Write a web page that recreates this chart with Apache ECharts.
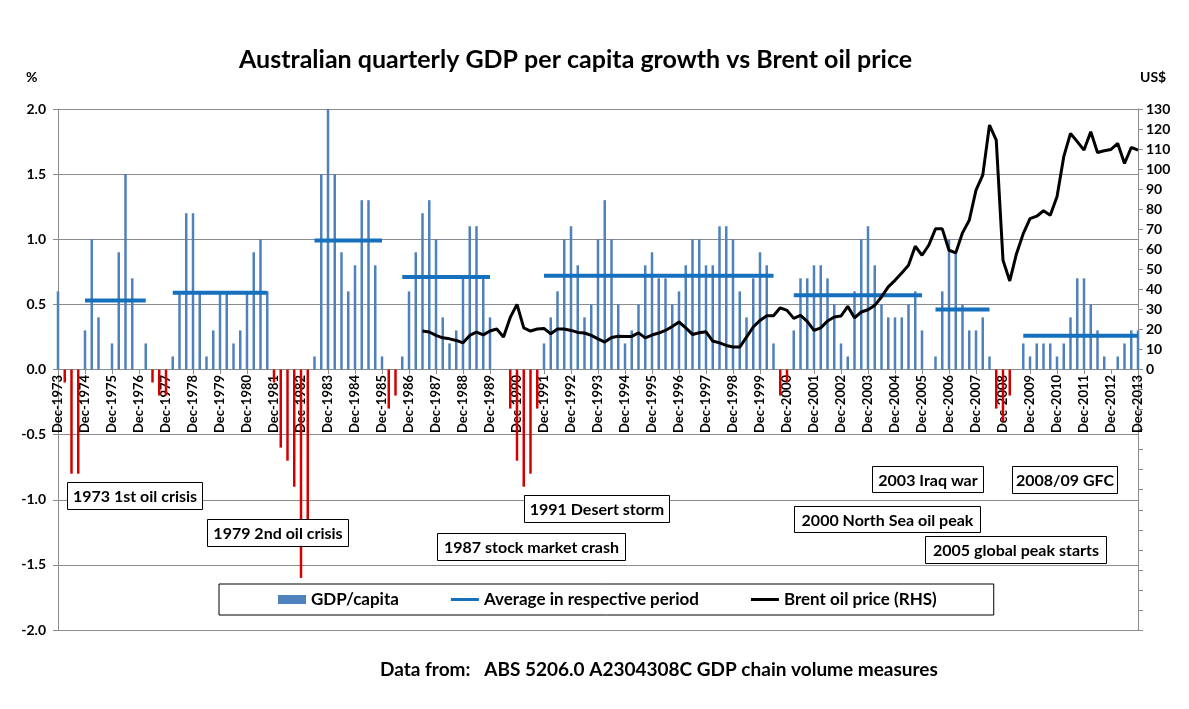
<!DOCTYPE html>
<html>
<head>
<meta charset="utf-8">
<title>Australian quarterly GDP per capita growth vs Brent oil price</title>
<script src="https://cdn.jsdelivr.net/npm/echarts@6/dist/echarts.min.js"></script>
<style>
  html, body { margin: 0; padding: 0; background: #fff; }
  #chart { width: 1189px; height: 709px; }
</style>
</head>
<body>
<div id="chart"></div>
<script>
// quarterly GDP per capita growth (%), Dec-1973 .. Dec-2013
var gdp = [
  0.6, -0.1, -0.8, -0.8, 0.3, 1.0, 0.4, 0, 0.2, 0.9,
  1.5, 0.7, 0, 0.2, -0.1, -0.2, -0.2, 0.1, 0.6, 1.2,
  1.2, 0.6, 0.1, 0.3, 0.6, 0.6, 0.2, 0.3, 0.6, 0.9,
  1.0, 0.6, -0.1, -0.6, -0.7, -0.9, -1.6, -1.2, 0.1, 1.5,
  2.0, 1.5, 0.9, 0.6, 0.8, 1.3, 1.3, 0.8, 0.1, -0.3,
  -0.2, 0.1, 0.6, 0.9, 1.2, 1.3, 1.0, 0.4, 0.2, 0.3,
  0.7, 1.1, 1.1, 0.7, 0.4, 0, 0, -0.3, -0.7, -0.9,
  -0.8, -0.3, 0.2, 0.4, 0.6, 1.0, 1.1, 0.8, 0.4, 0.5,
  1.0, 1.3, 1.0, 0.5, 0.2, 0.3, 0.5, 0.8, 0.9, 0.7,
  0.7, 0.5, 0.6, 0.8, 1.0, 1.0, 0.8, 0.8, 1.1, 1.1,
  1.0, 0.6, 0.4, 0.7, 0.9, 0.8, 0.2, -0.2, -0.1, 0.3,
  0.7, 0.7, 0.8, 0.8, 0.7, 0.5, 0.2, 0.1, 0.6, 1.0,
  1.1, 0.8, 0.5, 0.4, 0.4, 0.4, 0.5, 0.6, 0.3, 0,
  0.1, 0.6, 1.0, 0.9, 0.5, 0.3, 0.3, 0.4, 0.1, -0.3,
  -0.4, -0.2, 0, 0.2, 0.1, 0.2, 0.2, 0.2, 0.1, 0.2,
  0.4, 0.7, 0.7, 0.5, 0.3, 0.1, 0, 0.1, 0.2, 0.3,
  0.3
];

// Brent oil price (US$), starts at quarter index 54 (Jun-1987)
var oilStart = 54;
var oil = [
  19.2, 18.7, 17, 15.8, 15.3, 14.5, 13.3, 17, 18.7, 17.3,
  19.2, 20.2, 16.2, 26, 32.5, 20.8, 19.2, 20.2, 20.5, 17.8,
  20.2, 20.2, 19.5, 18.5, 18.2, 17, 15.3, 13.7, 16, 16.6,
  16.5, 16.5, 18.3, 15.8, 17.2, 18.2, 19.5, 21.5, 23.7, 20.8,
  17.5, 18.3, 18.8, 14.2, 13.3, 12, 11.2, 11.2, 16.2, 21.2,
  24.5, 26.8, 26.8, 30.8, 29.5, 25.5, 27, 24, 19.5, 20.8,
  24.2, 26.2, 26.7, 31.5, 25.8, 28.7, 29.8, 32, 36.2, 41.2,
  44.5, 48.2, 52, 61.5, 57, 62, 70.2, 70.2, 59.5, 58.2,
  68.2, 74.5, 89.5, 97, 122, 114.5, 54.5, 44.2, 57.8, 67.8,
  75.3, 76.5, 79.2, 77, 86.2, 106.2, 117.8, 113.7, 109.5, 118.7,
  108.3, 109.2, 109.8, 112.8, 102.8, 110.8, 109.5
];

// average growth in each period (first / last quarter index)
var avgFrom  = [4, 17, 38, 51, 72, 109, 130, 143];
var avgTo    = [13, 31, 48, 64, 106, 128, 138, 160];
var avgValue = [0.53, 0.59, 0.99, 0.71, 0.72, 0.57, 0.46, 0.26];

var leftTicks = [-2, 2, 0.5];
var rightTicks = [-130, 130, 10];

var notes = [
  '1973 1st oil crisis', '1979 2nd oil crisis', '1987 stock market crash',
  '1991 Desert storm', '2000 North Sea oil peak', '2003 Iraq war',
  '2008/09 GFC', '2005 global peak starts'
];

// quarter labels
var months = ['Mar', 'Jun', 'Sep', 'Dec'];
var quarters = [];
for (var i = 0; i < gdp.length; i++) {
  var q = i + 3;
  quarters.push(months[q % 4] + '-' + (1973 + Math.floor(q / 4)));
}

var barData = gdp.map(function (v) {
  return v < 0 ? { value: v, itemStyle: { color: '#D40000' } } : v;
});

var avgData = quarters.map(function () { return null; });
avgFrom.forEach(function (s, k) {
  for (var j = s; j <= avgTo[k]; j++) avgData[j] = avgValue[k];
});

var oilData = quarters.map(function (_, j) {
  return j >= oilStart ? oil[j - oilStart] : null;
});

var FONT = 'Lato, "Open Sans", sans-serif';
var GRID = '#8c8c8c';
var LINE_ICON = 'path://M0,0 L28,0 L28,3 L0,3 Z';

// annotation boxes: [x, y, w, h]
var boxes = [
  [67, 482, 135, 27], [207, 519, 141, 27], [437, 533, 188, 27],
  [524, 495, 145, 27], [794, 506, 186, 26], [872, 466, 111, 26],
  [1012, 466, 105, 27], [925, 536, 181, 27]
];

var graphics = boxes.map(function (b, k) {
  return {
    type: 'group', left: b[0], top: b[1], z: 100,
    children: [
      { type: 'rect', z: 100, shape: { x: 0, y: 0, width: b[2], height: b[3] },
        style: { fill: '#fff', stroke: '#000', lineWidth: 1 } },
      { type: 'text', z: 101, x: b[2] / 2, y: b[3] / 2 + 1,
        style: { text: notes[k], font: 'bold 16px ' + FONT, fill: '#000',
                 align: 'center', verticalAlign: 'middle' } }
    ]
  };
});
graphics.push(
  { type: 'text', left: 26, top: 70,
    style: { text: '%', font: 'bold 14px ' + FONT, fill: '#000' } },
  { type: 'text', left: 1140, top: 70,
    style: { text: 'US$', font: 'bold 14px ' + FONT, fill: '#000' } },
  { type: 'text', left: 380, top: 660,
    style: { text: 'Data from:   ABS 5206.0 A2304308C GDP chain volume measures',
             font: 'bold 19px ' + FONT, fill: '#000' } }
);

var chart = echarts.init(document.getElementById('chart'));
var option = {
  backgroundColor: '#fff',
  animation: false,
  title: {
    text: 'Australian quarterly GDP per capita growth vs Brent oil price',
    left: 234, top: 42,
    textStyle: { fontFamily: FONT, fontWeight: 'bold', fontSize: 25, color: '#000' }
  },
  legend: {
    left: 219, top: 584,
    padding: [7, 57, 7, 59],
    itemGap: 52, itemWidth: 28, itemHeight: 9,
    borderColor: '#000', borderWidth: 1, backgroundColor: '#fff',
    textStyle: { fontFamily: FONT, fontWeight: 'bold', fontSize: 17, color: '#000' },
    data: [
      { name: 'GDP/capita', icon: 'rect' },
      { name: 'Average in respective period', icon: LINE_ICON },
      { name: 'Brent oil price (RHS)', icon: LINE_ICON }
    ]
  },
  grid: { left: 58, right: 51, top: 109, bottom: 79 },
  xAxis: {
    type: 'category',
    data: quarters,
    boundaryGap: false,
    offset: -261,
    z: 0,
    axisLine: { onZero: false, lineStyle: { color: GRID } },
    axisTick: { interval: 3, length: 5, lineStyle: { color: GRID } },
    axisLabel: {
      interval: 3, rotate: 90, margin: 6,
      fontFamily: FONT, fontWeight: 'bold', fontSize: 13, color: '#000'
    },
    splitLine: { show: false }
  },
  yAxis: [
    {
      type: 'value', min: leftTicks[0], max: leftTicks[1], interval: leftTicks[2],
      axisLine: { show: true, lineStyle: { color: GRID } },
      axisTick: { show: true, length: 5, lineStyle: { color: GRID } },
      axisLabel: {
        margin: 12, fontFamily: FONT, fontWeight: 'bold', fontSize: 14, color: '#000',
        formatter: function (v) { return v.toFixed(1); }
      },
      splitLine: { lineStyle: { color: GRID } }
    },
    {
      type: 'value', min: rightTicks[0], max: rightTicks[1], interval: rightTicks[2],
      axisLine: { show: true, lineStyle: { color: GRID } },
      axisTick: { show: true, length: 5, lineStyle: { color: GRID } },
      axisLabel: {
        margin: 8, fontFamily: FONT, fontWeight: 'bold', fontSize: 14, color: '#000',
        formatter: function (v) { return v >= 0 ? String(v) : ''; }
      },
      splitLine: { show: false }
    }
  ],
  series: [
    {
      name: 'GDP/capita', type: 'bar', data: barData, z: 3,
      barWidth: 2.5, color: '#4F81BD'
    },
    {
      name: 'Average in respective period', type: 'line', data: avgData, z: 4,
      symbol: 'none', connectNulls: false, color: '#1570BE',
      lineStyle: { width: 4, color: '#1570BE' }
    },
    {
      name: 'Brent oil price (RHS)', type: 'line', yAxisIndex: 1, data: oilData, z: 5,
      symbol: 'none', color: '#000',
      lineStyle: { width: 3, color: '#000' }
    }
  ],
  graphic: graphics
};
chart.setOption(option);
window.onresize = function () { chart.resize(); };
</script>
</body>
</html>
